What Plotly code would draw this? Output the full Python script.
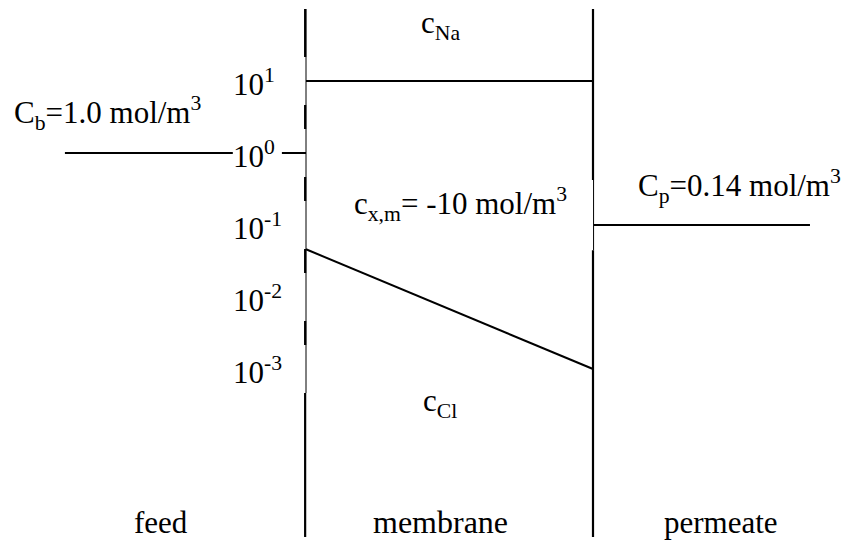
import numpy as np
import plotly.graph_objects as go

# Positions across the cell, membrane thickness normalised to 1
feed_start, membrane_left, membrane_right, permeate_end = -0.84, 0.0, 1.0, 1.756

# Concentrations (mol/m^3)
c_feed = 1.0
c_permeate = 0.1
c_na = 10.0
c_cl = [0.046, 0.001]

# Vertical extent of the boundaries (log10)
y_top_log, y_bot_log = 2.0, -5.333

# Decade labels on the concentration scale
tick_exps = [1, 0, -1, -2, -3]
tick_labels = ["10<sup>1</sup>", "10<sup>0</sup>", "10<sup>-1</sup>", "10<sup>-2</sup>", "10<sup>-3</sup>"]

FONT = "Liberation Serif"
FS = 31

fig = go.Figure()


def seg(x, y, w=2.0):
    fig.add_trace(go.Scatter(x=x, y=y, mode="lines", line=dict(color="black", width=w),
                             hoverinfo="skip", showlegend=False))


# Left membrane boundary: heavy segments interrupted around each decade label
gap = 1 / 3
breaks = [y_top_log]
for k in tick_exps:
    breaks += [k + gap, k - gap]
breaks.append(y_bot_log)
for a, b in zip(breaks[0::2], breaks[1::2]):
    seg([membrane_left - 0.003, membrane_left - 0.003], [10 ** a, 10 ** b], 2.2)
# thin continuous line over the upper part
seg([membrane_left, membrane_left], [10 ** y_top_log, 10 ** (-3 - gap)], 1.0)

# Right membrane boundary: heavy with a thin stretch beside the permeate label
seg([membrane_right, membrane_right], [10 ** y_top_log, 10 ** -0.375], 2.2)
seg([membrane_right + 0.002, membrane_right + 0.002], [10 ** -0.375, 10 ** -1.35], 1.0)
seg([membrane_right, membrane_right], [10 ** -1.35, 10 ** y_bot_log], 2.2)

# Feed bulk concentration, broken by the 10^0 label
seg([feed_start, -0.255], [c_feed, c_feed])
seg([-0.084, membrane_left], [c_feed, c_feed])

# Permeate concentration
seg([membrane_right + 0.003, permeate_end], [c_permeate, c_permeate])

# Counter-ion (Na) and co-ion (Cl) profiles inside the membrane
seg([membrane_left, membrane_right], [c_na, c_na])
seg([membrane_left, membrane_right], c_cl)

ann = []


def label(x, ylog, text, xanchor="center", size=FS):
    ann.append(dict(x=x, y=ylog, text=text, showarrow=False, xanchor=xanchor, yanchor="middle",
                    font=dict(family=FONT, size=size, color="black")))


for k, t in zip(tick_exps, tick_labels):
    label(-0.262, k - 0.02, t, xanchor="left")

label(0.467, 1.78, "c<sub>Na</sub>")
label(0.467, -3.47, "c<sub>Cl</sub>")
label(0.537, -0.708, "c<sub>x,m</sub>= -10 mol/m<sup>3</sup>")
label(-0.690, 0.555, "C<sub>b</sub>=1.0 mol/m<sup>3</sup>")
label(1.509, -0.458, "C<sub>p</sub>=0.14 mol/m<sup>3</sup>")
label(-0.505, -5.125, "feed")
label(0.467, -5.125, "membrane", size=32)
label(1.446, -5.125, "permeate")

fig.update_layout(
    width=848, height=541,
    margin=dict(l=0, r=0, t=0, b=0),
    paper_bgcolor="white", plot_bgcolor="white",
    annotations=ann,
    xaxis=dict(range=[-306 / 287, 542 / 287], visible=False, fixedrange=True),
    yaxis=dict(type="log", range=[-(541 - 153) / 72, 153 / 72], visible=False, fixedrange=True),
)

fig.write_html("out.html")
